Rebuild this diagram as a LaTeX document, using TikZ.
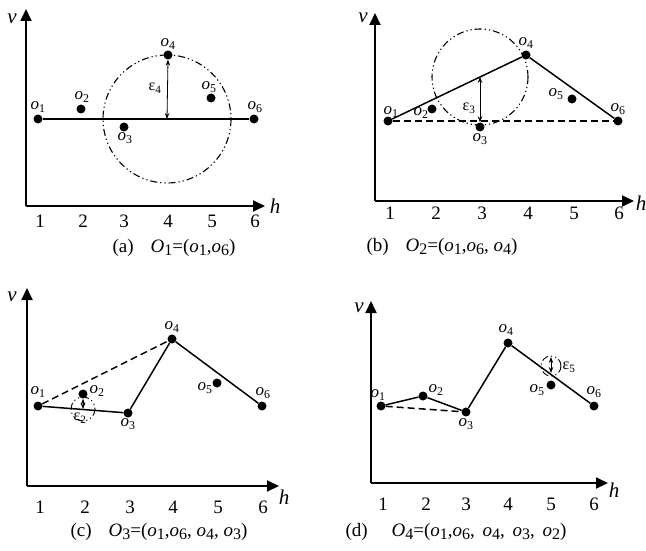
\documentclass[tikz,border=0pt]{standalone}
\usepackage{fontspec}
\setmainfont{Liberation Serif}
\usetikzlibrary{arrows.meta}
\newcommand{\po}[1]{\textit{o}\textsubscript{#1}}
\newcommand{\csub}[1]{\raisebox{-0.3ex}{\fontsize{16}{16}\selectfont #1}}
\newcommand{\PO}[1]{\textit{O}\csub{#1}}
\newcommand{\co}[1]{\textit{o}\csub{#1}}
\begin{document}
\begin{tikzpicture}[x=1pt,y=-1pt,
  axisline/.style={line width=1.9pt,-{Triangle[length=12pt,width=11pt]}},
  dotnode/.style={circle,fill=black,inner sep=0pt,minimum size=9pt},
  seg/.style={line width=1.5pt},
  dseg/.style={line width=1.5pt,dash pattern=on 7pt off 4pt},
  ddot/.style={line width=1.1pt,dash pattern=on 7pt off 3pt on 1.2pt off 3pt on 1.2pt off 3pt},
  dimarr/.style={line width=0.8pt,{Stealth[length=6pt,width=4.5pt]}-{Stealth[length=6pt,width=4.5pt]}},
  ticklab/.style={font=\fontsize{19}{19}\selectfont,inner sep=0pt},
  plab/.style={font=\fontsize{17}{17}\selectfont,inner sep=0pt},
  elab/.style={font=\fontsize{16}{16}\selectfont,inner sep=0pt},
  axlab/.style={font=\fontsize{21}{21}\selectfont\itshape,inner sep=0pt},
  captxt/.style={font=\fontsize{19}{19}\selectfont,inner sep=0pt}]
\useasboundingbox (0,0) rectangle (646,551);
% ================= (a) =================
\coordinate (aO) at (26,206);
\coordinate (aV) at (26,9);
\coordinate (aH) at (265,206);
\draw[axisline] (aO) -- (aV);
\draw[axisline] (aO) -- (aH);
\node[axlab] (av) at (12,19) {v};
\node[axlab] (ah) at (275,206) {h};
\foreach \i/\x in {1/40,2/83,3/124,4/168,5/212,6/255}
  \node[ticklab] (at\i) at (\x,221) {\i};
\node[dotnode] (a1) at (38,119) {};
\node[dotnode] (a2) at (81,109) {};
\node[dotnode] (a3) at (124,127) {};
\node[dotnode] (a4) at (168,55) {};
\node[dotnode] (a5) at (211,98) {};
\node[dotnode] (a6) at (254,119) {};
\coordinate (ac) at (167,119);
\draw[seg] (a1) -- (a6);
\draw[ddot] (ac) circle (64);
\draw[dimarr] (ac) -- (a4.south);
\node[elab] (ae) at (155,88) {ε\textsubscript{4}};
\node[plab] (al1) at (38,107) {\po1};
\node[plab] (al2) at (82,97) {\po2};
\node[plab] (al3) at (125,138) {\po3};
\node[plab] (al4) at (168,44) {\po4};
\node[plab] (al5) at (209,87) {\po5};
\node[plab] (al6) at (255,107) {\po6};
\node[captxt] (acap) at (174,248) {(a)\hspace{17pt}\PO1=(\co1,\co6)};
% ================= (b) =================
\coordinate (bO) at (375,201);
\coordinate (bV) at (375,13);
\coordinate (bH) at (634,201);
\draw[axisline] (bO) -- (bV);
\draw[axisline] (bO) -- (bH);
\node[axlab] (bv) at (363,18) {v};
\node[axlab] (bh) at (641,203) {h};
\foreach \i/\x in {1/390,2/436,3/482,4/528,5/574,6/619}
  \node[ticklab] (bt\i) at (\x,213) {\i};
\node[dotnode] (b1) at (388,121) {};
\node[dotnode] (b2) at (432,109) {};
\node[dotnode] (b3) at (480,127) {};
\node[dotnode] (b4) at (526,55) {};
\node[dotnode] (b5) at (572,99) {};
\node[dotnode] (b6) at (618,121) {};
\coordinate (bc) at (480,77);
\draw[ddot] (bc) circle (48);
\draw[dseg] (b1) -- (b6);
\draw[seg] (b1) -- (b4) -- (b6);
\draw[dimarr] (bc) -- (b3.north);
\node[elab] (be) at (469,108) {ε\textsubscript{3}};
\node[plab] (bl1) at (391,112) {\po1};
\node[plab] (bl2) at (421,113) {\po2};
\node[plab] (bl3) at (480,139) {\po3};
\node[plab] (bl4) at (526,43) {\po4};
\node[plab] (bl5) at (556,94) {\po5};
\node[plab] (bl6) at (618,109) {\po6};
\node[captxt] (bcap) at (442,247) {(b)\hspace{17pt}\PO2=(\co1,\co6, \co4)};
% ================= (c) =================
\coordinate (cO) at (27,486);
\coordinate (cV) at (27,288);
\coordinate (cH) at (279,486);
\draw[axisline] (cO) -- (cV);
\draw[axisline] (cO) -- (cH);
\node[axlab] (cv) at (12,297) {v};
\node[axlab] (ch) at (284,497) {h};
\foreach \i/\x in {1/40,2/85,3/130,4/173,5/218,6/263}
  \node[ticklab] (ct\i) at (\x,507) {\i};
\node[dotnode] (c1) at (38,406) {};
\node[dotnode] (c2) at (83,394) {};
\node[dotnode] (c3) at (128,413) {};
\node[dotnode] (c4) at (172,339) {};
\node[dotnode] (c5) at (217,383) {};
\node[dotnode] (c6) at (262,406) {};
\coordinate (cc) at (83,409);
\draw[dseg] (c1) -- (c4);
\draw[seg] (c1) -- (c3) -- (c4) -- (c6);
\draw[ddot,line width=0.9pt] (cc) circle (12);
\draw[dimarr] (c2.south) -- (cc);
\node[elab] (ce) at (80,418) {ε\textsubscript{2}};
\node[plab] (cl1) at (38,392) {\po1};
\node[plab] (cl2) at (97,391) {\po2};
\node[plab] (cl3) at (128,424) {\po3};
\node[plab] (cl4) at (172,327) {\po4};
\node[plab] (cl5) at (205,388) {\po5};
\node[plab] (cl6) at (263,393) {\po6};
\node[captxt] (ccap) at (159,532) {(c)\hspace{17pt}\PO3=(\co1,\co6, \co4, \co3)};
% ================= (d) =================
\coordinate (dO) at (371,483);
\coordinate (dV) at (371,301);
\coordinate (dH) at (608,483);
\draw[axisline] (dO) -- (dV);
\draw[axisline] (dO) -- (dH);
\node[axlab] (dv) at (359,308) {v};
\node[axlab] (dh) at (614,490) {h};
\foreach \i/\x in {1/383,2/426,3/466,4/508,5/551,6/594}
  \node[ticklab] (dt\i) at (\x,504) {\i};
\node[dotnode] (d1) at (381,406) {};
\node[dotnode] (d2) at (423,396) {};
\node[dotnode] (d3) at (466,412) {};
\node[dotnode] (d4) at (508,343) {};
\node[dotnode] (d5) at (551,385) {};
\node[dotnode] (d6) at (594,406) {};
\coordinate (dc) at (551,366);
\coordinate (dl) at (551,373);
\coordinate (dt) at (551,357);
\draw[dseg] (d1) -- (d3);
\draw[seg] (d1) -- (d2) -- (d3) -- (d4) -- (d6);
\draw[ddot,line width=0.9pt] (dc) circle (10);
\draw[dimarr] (dl) -- (dt);
\node[elab] (de) at (569,367) {ε\textsubscript{5}};
\node[plab] (dl1) at (378,395) {\po1};
\node[plab] (dl2) at (436,390) {\po2};
\node[plab] (dl3) at (466,424) {\po3};
\node[plab] (dl4) at (506,330) {\po4};
\node[plab] (dl5) at (537,390) {\po5};
\node[plab] (dl6) at (594,392) {\po6};
\node[captxt] (dcap) at (456,532) {(d)\hspace{24pt}\PO4=(\co1,\co6,\hspace{3pt} \co4,\hspace{3pt} \co3,\hspace{3pt} \co2)};
\end{tikzpicture}
\end{document}
